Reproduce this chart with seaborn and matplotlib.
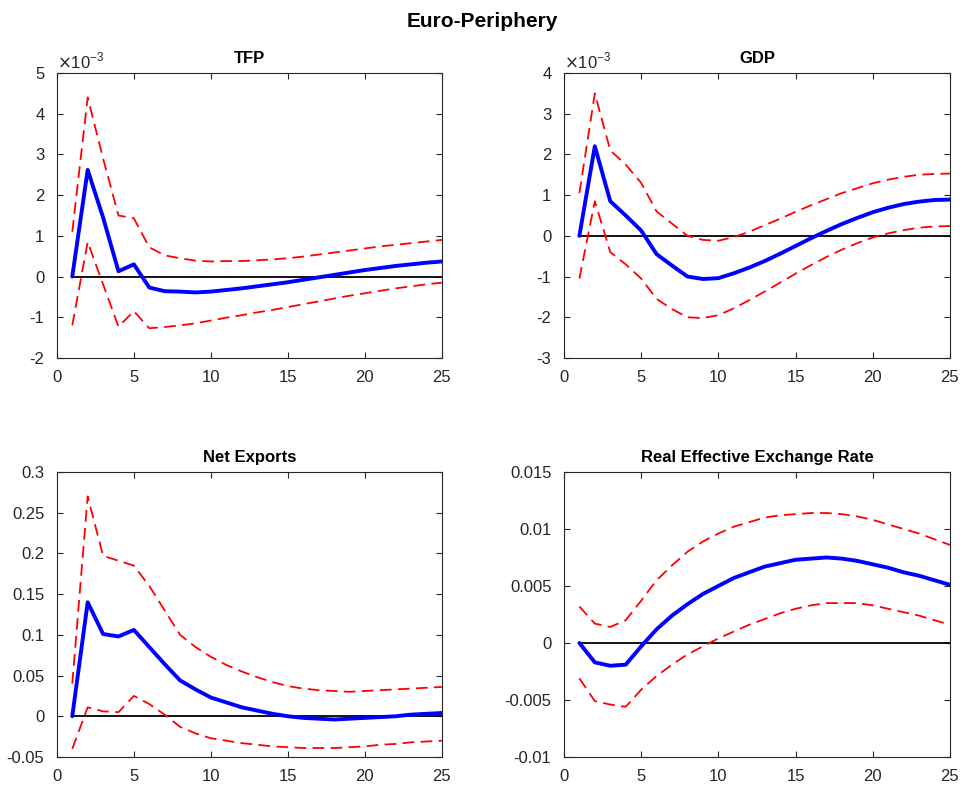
import numpy as np
import pandas as pd
import matplotlib
matplotlib.use("Agg")
import matplotlib.pyplot as plt
import seaborn as sns
from matplotlib.ticker import FuncFormatter

periods = list(range(1, 26))

# TFP (in units of 10^-3)
tfp_mid = [0, 2.62, 1.45, 0.13, 0.30, -0.27, -0.36, -0.37, -0.39, -0.37, -0.33, -0.29, -0.24,
           -0.19, -0.14, -0.08, -0.02, 0.04, 0.10, 0.16, 0.21, 0.26, 0.30, 0.34, 0.37]
tfp_hi = [1.10, 4.40, 2.90, 1.50, 1.43, 0.72, 0.52, 0.45, 0.39, 0.37, 0.38, 0.38, 0.40,
          0.42, 0.45, 0.49, 0.54, 0.59, 0.64, 0.69, 0.74, 0.78, 0.82, 0.86, 0.90]
tfp_lo = [-1.20, 0.85, -0.19, -1.23, -0.85, -1.27, -1.24, -1.20, -1.15, -1.08, -1.01, -0.95, -0.88,
          -0.82, -0.75, -0.68, -0.61, -0.54, -0.47, -0.41, -0.35, -0.29, -0.24, -0.19, -0.15]

# GDP (in units of 10^-3)
gdp_mid = [0, 2.20, 0.85, 0.50, 0.13, -0.45, -0.73, -1.00, -1.06, -1.04, -0.92, -0.78, -0.62,
           -0.44, -0.25, -0.06, 0.12, 0.29, 0.44, 0.58, 0.69, 0.78, 0.84, 0.88, 0.89]
gdp_hi = [1.05, 3.50, 2.10, 1.75, 1.30, 0.60, 0.30, 0.00, -0.10, -0.12, -0.03, 0.10, 0.26,
          0.42, 0.59, 0.75, 0.90, 1.05, 1.17, 1.29, 1.38, 1.45, 1.50, 1.52, 1.53]
gdp_lo = [-1.05, 0.85, -0.40, -0.70, -1.05, -1.55, -1.80, -2.00, -2.02, -1.95, -1.78, -1.58, -1.37,
          -1.15, -0.93, -0.72, -0.52, -0.34, -0.18, -0.04, 0.06, 0.14, 0.20, 0.23, 0.24]

# Net exports
nx_mid = [0, 0.140, 0.101, 0.098, 0.106, 0.085, 0.064, 0.044, 0.033, 0.023, 0.017, 0.011, 0.007,
          0.003, 0.000, -0.002, -0.003, -0.004, -0.003, -0.002, -0.001, 0.000, 0.002, 0.003, 0.004]
nx_hi = [0.040, 0.270, 0.197, 0.191, 0.185, 0.160, 0.130, 0.100, 0.085, 0.073, 0.063, 0.055, 0.048,
         0.042, 0.037, 0.034, 0.032, 0.031, 0.030, 0.031, 0.032, 0.033, 0.034, 0.035, 0.036]
nx_lo = [-0.040, 0.011, 0.006, 0.005, 0.025, 0.015, 0.002, -0.013, -0.021, -0.027, -0.030, -0.033, -0.035,
         -0.037, -0.038, -0.039, -0.039, -0.039, -0.038, -0.037, -0.035, -0.034, -0.032, -0.031, -0.030]

# Real effective exchange rate
reer_mid = [0, -0.0017, -0.0020, -0.0019, -0.0003, 0.0012, 0.0024, 0.0034, 0.0043, 0.0050, 0.0057, 0.0062, 0.0067,
            0.0070, 0.0073, 0.0074, 0.0075, 0.0074, 0.0072, 0.0069, 0.0066, 0.0062, 0.0059, 0.0055, 0.0051]
reer_hi = [0.0032, 0.0017, 0.0014, 0.0020, 0.0037, 0.0055, 0.0068, 0.0080, 0.0089, 0.0096, 0.0102, 0.0106, 0.0110,
           0.0112, 0.0113, 0.0114, 0.0114, 0.0113, 0.0111, 0.0108, 0.0104, 0.0100, 0.0096, 0.0091, 0.0086]
reer_lo = [-0.0031, -0.0051, -0.0054, -0.0056, -0.0041, -0.0029, -0.0019, -0.0010, -0.0003, 0.0004, 0.0010, 0.0016, 0.0021,
           0.0026, 0.0030, 0.0033, 0.0035, 0.0035, 0.0035, 0.0033, 0.0030, 0.0027, 0.0024, 0.0020, 0.0016]

sns.set_style("ticks")
plt.rcParams["font.family"] = ["Liberation Sans", "DejaVu Sans"]
plt.rcParams["axes.unicode_minus"] = False

fig = plt.figure(figsize=(9.64, 7.89), dpi=100)

panels = [
    ("TFP", tfp_mid, tfp_hi, tfp_lo, (-2, 5), [0.059, 0.5463, 0.3994, 0.3612], True),
    ("GDP", gdp_mid, gdp_hi, gdp_lo, (-3, 4), [0.585, 0.5463, 0.4004, 0.3612], True),
    ("Net Exports", nx_mid, nx_hi, nx_lo, (-0.05, 0.3), [0.059, 0.0406, 0.3994, 0.3612], False),
    ("Real Effective Exchange Rate", reer_mid, reer_hi, reer_lo, (-0.01, 0.015),
     [0.585, 0.0406, 0.4004, 0.3612], False),
]

dash = (0, (6.5, 3.5))

for title, mid, hi, lo, ylim, rect, sci in panels:
    ax = fig.add_axes(rect)
    df = pd.DataFrame({"period": periods, "mid": mid, "hi": hi, "lo": lo,
                       "zero": np.zeros(len(periods))})
    sns.lineplot(data=df, x="period", y="zero", ax=ax, color="black", linewidth=1.3)
    sns.lineplot(data=df, x="period", y="hi", ax=ax, color="red", linewidth=1.3, linestyle=dash)
    sns.lineplot(data=df, x="period", y="lo", ax=ax, color="red", linewidth=1.3, linestyle=dash)
    sns.lineplot(data=df, x="period", y="mid", ax=ax, color="blue", linewidth=2.8)

    ax.set_xlim(0, 25)
    ax.set_ylim(*ylim)
    ax.set_xticks(range(0, 26, 5))
    ax.set_xlabel("")
    ax.set_ylabel("")
    ax.set_title(title, fontsize=12, fontweight="bold", pad=7, color="black")
    for side in ["top", "right", "left", "bottom"]:
        ax.spines[side].set_visible(True)
        ax.spines[side].set_color("#262626")
        ax.spines[side].set_linewidth(0.8)
    ax.tick_params(direction="in", top=True, right=True, labelsize=12,
                   colors="#262626", length=4, width=0.8)
    ax.tick_params(axis="x", pad=9)
    ax.tick_params(axis="y", pad=9)
    ax.yaxis.set_major_formatter(FuncFormatter(lambda v, p: f"{round(v, 6):g}"))
    if sci:
        # exponent label like MATLAB's axis multiplier
        ax.text(0.0, 1.005, r"$\times$10$^{\mathregular{-3}}$", transform=ax.transAxes,
                fontsize=12, color="#262626", ha="left", va="bottom")

fig.suptitle("Euro-Periphery", fontsize=15, fontweight="bold", y=0.985, color="black")
fig.savefig("out.png", dpi=100)
